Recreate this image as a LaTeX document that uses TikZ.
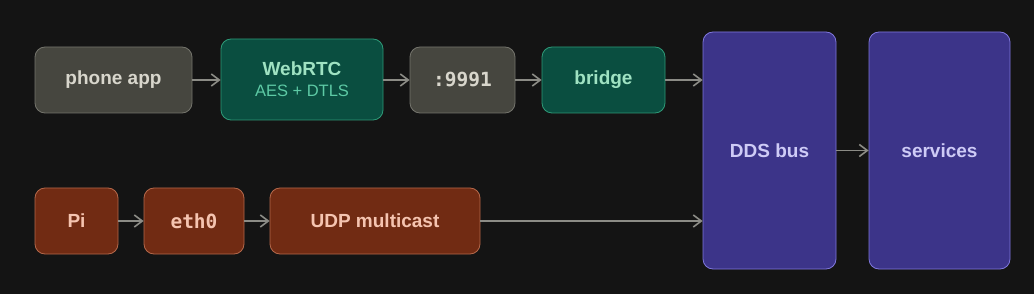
\documentclass[tikz,border=0pt]{standalone}
\usepackage{fontspec}
\setmainfont{Liberation Sans}
\newfontfamily\monof{DejaVu Sans Mono}
\usetikzlibrary{arrows.meta}
\definecolor{bg}{HTML}{141414}
\definecolor{grayfill}{HTML}{46463F}
\definecolor{grayline}{HTML}{74746C}
\definecolor{graytext}{HTML}{D8D6CC}
\definecolor{greenfill}{HTML}{0A4E40}
\definecolor{greenline}{HTML}{2E9A78}
\definecolor{greentext}{HTML}{9FE2C2}
\definecolor{greensub}{HTML}{5DCAA5}
\definecolor{orfill}{HTML}{712B13}
\definecolor{orline}{HTML}{B4684A}
\definecolor{ortext}{HTML}{F5C4B0}
\definecolor{pufill}{HTML}{3C3489}
\definecolor{puline}{HTML}{7F77DD}
\definecolor{putext}{HTML}{CECBF6}
\definecolor{arr}{HTML}{8C8C86}
\tikzset{
  x=1pt,y=-1pt,
  boxbase/.style={draw, line width=0.8pt, rounded corners=10pt, inner sep=0pt, font=\bfseries\fontsize{19}{21}\selectfont},
  monofont/.style={font=\monof\bfseries\fontsize{19.5}{21}\selectfont},
  graybox/.style={boxbase, fill=grayfill, draw=grayline, text=graytext},
  greenbox/.style={boxbase, fill=greenfill, draw=greenline, text=greentext},
  orbox/.style={boxbase, fill=orfill, draw=orline, text=ortext},
  pubox/.style={boxbase, fill=pufill, draw=puline, text=putext},
  conn/.style={draw=arr, line width=1.6pt, -{Straight Barb[length=8pt,width=12pt]}},
}
\begin{document}
\begin{tikzpicture}
\useasboundingbox[fill=bg] (0,0) rectangle (1034,294);
% row 1
\node[graybox, minimum width=157pt, minimum height=66pt] (phone) at (113.5,80) {phone app};
\node[greenbox, minimum width=162pt, minimum height=81pt, align=center] (webrtc) at (302,79.5) {WebRTC\\[0pt]{\mdseries\fontsize{16.5}{18}\selectfont\color{greensub}AES + DTLS}};
\node[graybox, monofont, minimum width=105pt, minimum height=66pt] (port) at (462.5,80) {:9991};
\node[greenbox, minimum width=123pt, minimum height=66pt] (bridge) at (603.5,80) {bridge};
% right
\node[pubox, minimum width=133pt, minimum height=237pt] (dds) at (769.5,150.5) {DDS bus};
\node[pubox, minimum width=141pt, minimum height=237pt] (svc) at (939.5,150.5) {services};
% row 2
\node[orbox, minimum width=83pt, minimum height=66pt] (pi) at (76.5,221) {Pi};
\node[orbox, monofont, minimum width=100pt, minimum height=66pt] (eth) at (194,221) {eth0};
\node[orbox, minimum width=210pt, minimum height=66pt] (udp) at (375,221) {UDP multicast};
% connectors
\draw[conn] (phone.east) -- (webrtc.west |- phone.east);
\draw[conn] (webrtc.east |- port.west) -- (port.west);
\draw[conn] (port.east) -- (bridge.west);
\draw[conn] (bridge.east) -- (dds.west |- bridge.east);
\draw[conn] (pi.east) -- (eth.west);
\draw[conn] (eth.east) -- (udp.west);
\draw[conn] (udp.east) -- (dds.west |- udp.east);
\draw[conn] (dds.east) -- (svc.west);
\end{tikzpicture}
\end{document}
